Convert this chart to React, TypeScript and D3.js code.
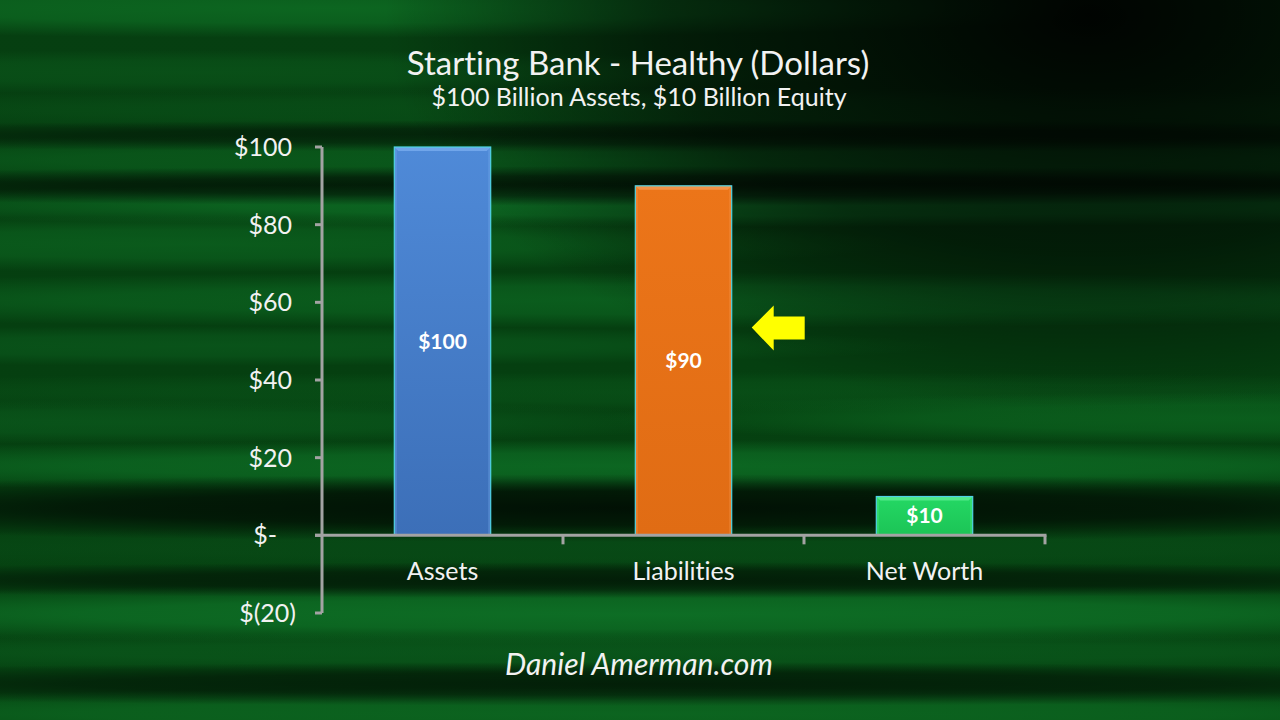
import React from "react";
import * as d3 from "d3";

// Balance sheet of the starting bank, in billions of dollars
const categories = ["Assets", "Liabilities", "Net Worth"];
const values = [100, 90, 10];
const valueLabels = ["$100", "$90", "$10"];
const yTicks = [-20, 0, 20, 40, 60, 80, 100];
const yDomain = [-20, 100];

const titleText = "Starting Bank - Healthy (Dollars)";
const subtitleText = "$100 Billion Assets, $10 Billion Equity";
const footerText = "Daniel Amerman.com";

const W = 1280;
const H = 720;
const FONT = "Lato, 'Open Sans', sans-serif";
const NOLIG = { fontVariantLigatures: "none" as const, fontFeatureSettings: "'liga' 0" };

const barFills = [
  { top: "#4f8ad8", bottom: "#3c6fb8", bevel: "#79acef" },
  { top: "#ec7519", bottom: "#e06c14", bevel: "#f59a52" },
  { top: "#24d864", bottom: "#1cc456", bevel: "#5cee93" },
];

// Soft streaks of the backdrop: [centre y, half height, x0, x1, colour, opacity]
const streaks: [number, number, number, number, string, number][] = [
  [8, 30, -500, 1150, "#0d6a22", 0.9],
  [72, 22, -500, 900, "#0b5a1c", 0.6],
  [110, 22, -400, 1700, "#0b5a1c", 0.5],
  [160, 26, -500, 1700, "#0c6420", 0.7],
  [205, 22, -300, 1800, "#0e7026", 0.85],
  [244, 28, -500, 900, "#0c6420", 0.75],
  [300, 28, -500, 1800, "#0d6a23", 0.7],
  [346, 20, -500, 950, "#0c6020", 0.6],
  [392, 20, -400, 1800, "#0b5a1c", 0.5],
  [418, 26, 600, 1900, "#0d6a22", 0.7],
  [422, 22, -500, 750, "#0c6020", 0.6],
  [466, 26, -500, 1800, "#0e7026", 0.8],
  [548, 22, -400, 1800, "#0a501a", 0.5],
  [614, 30, -500, 1800, "#0e7026", 0.95],
  [652, 20, -500, 1800, "#0c6020", 0.6],
  [714, 26, -500, 1800, "#0d6a22", 0.85],
];

const shadows: [number, number, number, number, number][] = [
  [136, 16, -500, 1800, 0.45],
  [186, 20, -500, 1800, 0.6],
  [508, 34, -500, 1800, 0.75],
  [580, 18, -500, 1800, 0.55],
  [684, 22, -500, 1800, 0.55],
];

export default function App() {
  const x = d3
    .scaleBand<string>()
    .domain(categories)
    .range([322, 1045])
    .paddingInner(0.6)
    .paddingOuter(0.3);
  const y = d3.scaleLinear().domain(yDomain).range([613, 147]);

  const x0 = x.range()[0];
  const x1 = x.range()[1];
  const y0 = y(0);
  const step = x.step();
  const boundaries = categories.map((_, i) => x0 + step * (i + 1));

  const fmt = (v: number) => (v < 0 ? `$(${-v})` : v === 0 ? "$-" : `$${v}`);
  const labelX = (v: number) => (v < 0 ? 296 : v === 0 ? 277 : 292);

  // Yellow pointer to the liabilities bar
  const libX = (x("Liabilities") ?? 0) + x.bandwidth();
  const ax = libX + 20;
  const ay = y(53.5);
  const arrow = [
    [ax, ay],
    [ax + 22, ay - 22],
    [ax + 22, ay - 11],
    [ax + 53, ay - 11],
    [ax + 53, ay + 12],
    [ax + 22, ay + 12],
    [ax + 22, ay + 23],
  ];

  return (
    <svg
      width={W}
      height={H}
      style={{ position: "absolute", left: 0, top: 0, display: "block" }}
    >
      <defs>
        <linearGradient id="bgBase" x1="0" y1="0" x2="0" y2="1">
          <stop offset="0" stopColor="#063f11" />
          <stop offset="0.5" stopColor="#053f10" />
          <stop offset="1" stopColor="#064512" />
        </linearGradient>
        <radialGradient id="topDark" cx="0.85" cy="0.02" r="0.55">
          <stop offset="0" stopColor="#000" stopOpacity="0.95" />
          <stop offset="0.6" stopColor="#000" stopOpacity="0.55" />
          <stop offset="1" stopColor="#000" stopOpacity="0" />
        </radialGradient>
        {streaks.map(([, , , , c], i) => (
          <radialGradient key={i} id={`st${i}`} cx="0.5" cy="0.5" r="0.5">
            <stop offset="0" stopColor={c} stopOpacity="1" />
            <stop offset="0.5" stopColor={c} stopOpacity="0.8" />
            <stop offset="1" stopColor={c} stopOpacity="0" />
          </radialGradient>
        ))}
        <radialGradient id="shade" cx="0.5" cy="0.5" r="0.5">
          <stop offset="0" stopColor="#000" stopOpacity="1" />
          <stop offset="0.5" stopColor="#000" stopOpacity="0.8" />
          <stop offset="1" stopColor="#000" stopOpacity="0" />
        </radialGradient>
        {barFills.map((f, i) => (
          <linearGradient key={i} id={`bar${i}`} x1="0" y1="0" x2="0" y2="1">
            <stop offset="0" stopColor={f.top} />
            <stop offset="1" stopColor={f.bottom} />
          </linearGradient>
        ))}
      </defs>

      {/* backdrop */}
      <rect x={0} y={0} width={W} height={H} fill="url(#bgBase)" />
      {streaks.map(([cy, hh, sx0, sx1, , o], i) => (
        <ellipse
          key={i}
          cx={(sx0 + sx1) / 2}
          cy={cy}
          rx={(sx1 - sx0) / 2}
          ry={hh}
          fill={`url(#st${i})`}
          opacity={o}
        />
      ))}
      {shadows.map(([cy, hh, sx0, sx1, o], i) => (
        <ellipse
          key={`s${i}`}
          cx={(sx0 + sx1) / 2}
          cy={cy}
          rx={(sx1 - sx0) / 2}
          ry={hh}
          fill="url(#shade)"
          opacity={o}
        />
      ))}
      <rect x={0} y={0} width={W} height={H} fill="url(#topDark)" />

      {/* titles */}
      <text x={638} y={75} textAnchor="middle" fontFamily={FONT} fontSize={33} fill="#f2f2f2" style={NOLIG}>
        {titleText}
      </text>
      <text x={639} y={106} textAnchor="middle" fontFamily={FONT} fontSize={25} fill="#f2f2f2" style={NOLIG}>
        {subtitleText}
      </text>

      {/* bars */}
      {categories.map((c, i) => {
        const bx = x(c) ?? 0;
        const bw = x.bandwidth();
        const top = y(values[i]);
        const bh = y0 - top;
        const f = barFills[i];
        const bev = 4;
        return (
          <g key={c}>
            <rect x={bx} y={top} width={bw} height={bh} fill={`url(#bar${i})`} />
            <polygon
              points={`${bx},${top} ${bx + bw},${top} ${bx + bw - bev},${top + bev} ${bx + bev},${top + bev}`}
              fill={f.bevel}
              opacity={0.8}
            />
            <rect x={bx} y={top} width={2.5} height={bh} fill={f.bevel} opacity={0.35} />
            <rect x={bx + bw - 2.5} y={top} width={2.5} height={bh} fill={f.bevel} opacity={0.35} />
            <rect x={bx} y={top} width={bw} height={bh} fill="none" stroke="#4fd2e4" strokeWidth={1.2} />
            <text
              x={bx + bw / 2}
              y={(top + y0) / 2}
              dy="0.36em"
              textAnchor="middle"
              fontFamily={FONT}
              fontWeight={700}
              fontSize={21}
              fill="#ffffff"
            >
              {valueLabels[i]}
            </text>
          </g>
        );
      })}

      {/* axes */}
      <g stroke="#a3a3a3" strokeWidth={3} fill="none">
        <line x1={x0} x2={x0} y1={y(yDomain[1])} y2={y(yDomain[0])} />
        {yTicks.map((t) => (
          <line key={t} x1={x0 - 7} x2={x0} y1={y(t)} y2={y(t)} />
        ))}
        <line x1={x0 - 7} x2={x1 + 1.5} y1={y0} y2={y0} />
        {boundaries.map((b, i) => (
          <line key={i} x1={b} x2={b} y1={y0} y2={y0 + 9} />
        ))}
      </g>
      {yTicks.map((t) => (
        <text
          key={t}
          x={labelX(t)}
          y={y(t)}
          dy="0.36em"
          textAnchor="end"
          fontFamily={FONT}
          fontSize={25}
          fill="#f2f2f2"
        >
          {fmt(t)}
        </text>
      ))}

      {/* category labels */}
      {categories.map((c) => (
        <text
          key={c}
          x={(x(c) ?? 0) + x.bandwidth() / 2}
          y={580}
          textAnchor="middle"
          fontFamily={FONT}
          fontSize={25}
          fill="#f2f2f2"
          style={NOLIG}
        >
          {c}
        </text>
      ))}

      {/* pointer */}
      <polygon points={arrow.map((p) => p.join(",")).join(" ")} fill="#ffff00" />

      {/* footer */}
      <text
        x={639}
        y={675}
        textAnchor="middle"
        fontFamily={FONT}
        fontStyle="italic"
        fontSize={30}
        fill="#f2f2f2"
      >
        {footerText}
      </text>
    </svg>
  );
}
